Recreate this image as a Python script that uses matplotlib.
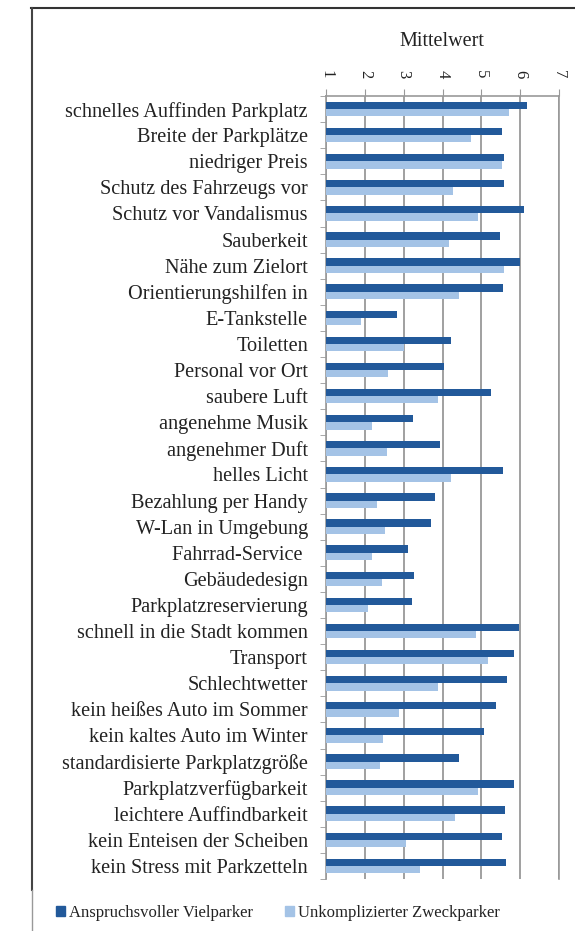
import matplotlib
matplotlib.use("Agg")
import numpy as np
import matplotlib.pyplot as plt
from matplotlib.lines import Line2D
from matplotlib.patches import Patch

plt.rcParams['font.family'] = ['Liberation Serif', 'DejaVu Serif']

categories = [
    "schnelles Auffinden Parkplatz", "Breite der Parkplätze", "niedriger Preis",
    "Schutz des Fahrzeugs vor", "Schutz vor Vandalismus", "Sauberkeit",
    "Nähe zum Zielort", "Orientierungshilfen in", "E-Tankstelle", "Toiletten",
    "Personal vor Ort", "saubere Luft", "angenehme Musik", "angenehmer Duft",
    "helles Licht", "Bezahlung per Handy", "W-Lan in Umgebung", "Fahrrad-Service ",
    "Gebäudedesign", "Parkplatzreservierung", "schnell in die Stadt kommen",
    "Transport", "Schlechtwetter", "kein heißes Auto im Sommer",
    "kein kaltes Auto im Winter", "standardisierte Parkplatzgröße",
    "Parkplatzverfügbarkeit", "leichtere Auffindbarkeit",
    "kein Enteisen der Scheiben", "kein Stress mit Parkzetteln",
]
vielparker = [6.17, 5.54, 5.58, 5.59, 6.10, 5.48, 5.99, 5.57, 2.84, 4.23,
              4.04, 5.24, 3.25, 3.94, 5.56, 3.81, 3.70, 3.12, 3.27, 3.22,
              5.96, 5.84, 5.67, 5.38, 5.08, 4.43, 5.85, 5.60, 5.52, 5.63]
zweckparker = [5.70, 4.73, 5.52, 4.26, 4.91, 4.16, 5.59, 4.43, 1.90, 3.02,
               2.60, 3.88, 2.19, 2.56, 4.21, 2.31, 2.52, 2.19, 2.44, 2.09,
               4.86, 5.18, 3.88, 2.87, 2.48, 2.39, 4.92, 4.33, 3.06, 3.42]
series_names = ["Anspruchsvoller Vielparker", "Unkomplizierter Zweckparker"]
xticks = [1, 2, 3, 4, 5, 6, 7]

DARK = "#22599a"
LIGHT = "#a4c3e6"
GRID = "#999999"
TEXT = "#222222"

fig = plt.figure(figsize=(5.75, 9.31), dpi=100)
ax = fig.add_axes([326 / 575, 1 - 879 / 931, (559 - 326) / 575, (879 - 96) / 931])

y = np.arange(len(categories))
h = 0.28
base = 1
ax.barh(y - h / 2, np.array(vielparker) - base, left=base, height=h, color=DARK, zorder=3)
ax.barh(y + h / 2, np.array(zweckparker) - base, left=base, height=h, color=LIGHT, zorder=3)

ax.set_xlim(1, 7)
ax.set_ylim(len(categories) - 0.5, -0.5)
ax.xaxis.tick_top()
ax.set_xticks(xticks)
ax.set_xticklabels([str(t) for t in xticks], rotation=-90, fontsize=12, color=TEXT)
ax.tick_params(axis='x', length=5, color=GRID, pad=8)
ax.grid(axis='x', color=GRID, linewidth=1.3, zorder=0)

ax.set_yticks(y)
ax.set_yticklabels(categories, fontsize=14.6, color=TEXT)
ax.set_yticks(np.arange(-0.5, len(categories), 1), minor=True)
ax.tick_params(axis='y', which='major', length=0, pad=13)
ax.tick_params(axis='y', which='minor', length=4, color=GRID)

ax.spines['bottom'].set_visible(False)
for side in ['top', 'left', 'right']:
    ax.spines[side].set_color(GRID)
    ax.spines[side].set_linewidth(1.2)

fig.text(442 / 575, 1 - 41 / 931, "Mittelwert", ha='center', va='center',
         fontsize=14.5, color=TEXT)

handles = [Patch(color=DARK), Patch(color=LIGHT)]
fig.legend(handles, series_names, loc='center', bbox_to_anchor=(278 / 575, 1 - 913 / 931),
           ncol=2, frameon=False, fontsize=12, handlelength=0.55, handleheight=0.55,
           handletextpad=0.25, columnspacing=1.9, labelcolor=TEXT)

# frame lines around the chart
fig.add_artist(Line2D([31 / 575, 1.0], [1 - 8 / 931] * 2, transform=fig.transFigure,
                      color="#333333", linewidth=1.5))
fig.add_artist(Line2D([32 / 575] * 2, [1 - 8 / 931, 1 - 890 / 931], transform=fig.transFigure,
                      color="#444444", linewidth=1.5))
fig.add_artist(Line2D([32 / 575] * 2, [1 - 890 / 931, 0.0], transform=fig.transFigure,
                      color="#999999", linewidth=1.0))

fig.savefig("out.png", dpi=100)
